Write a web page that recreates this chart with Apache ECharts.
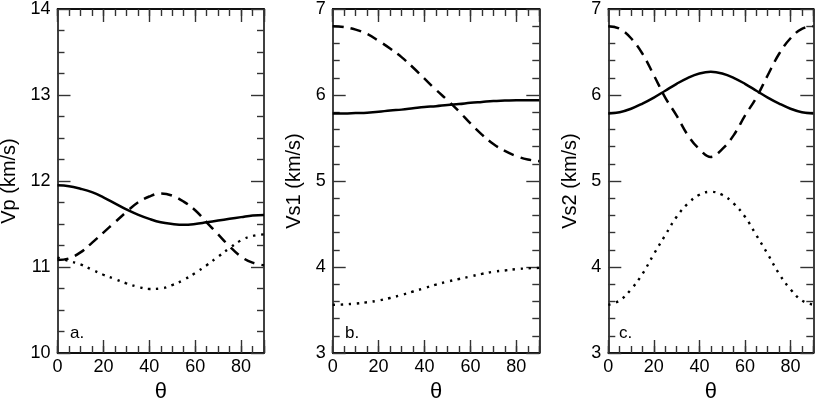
<!DOCTYPE html>
<html>
<head>
<meta charset="utf-8">
<script src="https://cdn.jsdelivr.net/npm/echarts@6/dist/echarts.min.js"></script>
<style>
  html, body { margin: 0; padding: 0; background: #fff; }
  #chart { width: 817px; height: 398px; }
</style>
</head>
<body>
<div id="chart"></div>
<script>
// angle samples (degrees)
const theta = [0, 5, 10, 15, 20, 25, 30, 35, 40, 45, 50, 55, 60, 65, 70, 75, 80, 85, 90]

// panel a: Vp
const vpSolid  = [11.95, 11.94, 11.91, 11.87, 11.81, 11.74, 11.67, 11.61, 11.56, 11.52, 11.50, 11.49, 11.50, 11.52, 11.54, 11.56, 11.58, 11.60, 11.605]
const vpDashed = [11.08, 11.10, 11.17, 11.28, 11.40, 11.52, 11.64, 11.75, 11.82, 11.855, 11.83, 11.76, 11.66, 11.52, 11.38, 11.24, 11.12, 11.05, 11.02]
const vpDotted = [11.11, 11.07, 11.03, 10.97, 10.91, 10.86, 10.81, 10.77, 10.745, 10.75, 10.79, 10.85, 10.93, 11.02, 11.12, 11.22, 11.31, 11.36, 11.38]

// panel b: Vs1
const vs1Solid  = [5.785, 5.785, 5.79, 5.795, 5.805, 5.82, 5.83, 5.845, 5.86, 5.87, 5.885, 5.895, 5.91, 5.92, 5.93, 5.935, 5.94, 5.94, 5.94]
const vs1Dashed = [6.80, 6.79, 6.76, 6.71, 6.63, 6.54, 6.44, 6.32, 6.19, 6.06, 5.94, 5.81, 5.67, 5.54, 5.43, 5.35, 5.29, 5.25, 5.23]
const vs1Dotted = [3.56, 3.565, 3.575, 3.59, 3.61, 3.64, 3.675, 3.715, 3.755, 3.795, 3.83, 3.86, 3.89, 3.92, 3.945, 3.96, 3.975, 3.985, 3.99]

// panel c: Vs2
const vs2Solid  = [5.785, 5.80, 5.84, 5.90, 5.97, 6.05, 6.13, 6.20, 6.25, 6.27, 6.25, 6.20, 6.13, 6.05, 5.97, 5.90, 5.84, 5.80, 5.785]
const vs2Dashed = [6.80, 6.77, 6.66, 6.48, 6.23, 5.97, 5.76, 5.53, 5.37, 5.28, 5.37, 5.53, 5.76, 5.97, 6.23, 6.48, 6.66, 6.77, 6.80]
const vs2Dotted = [3.56, 3.61, 3.74, 3.92, 4.15, 4.37, 4.585, 4.74, 4.84, 4.875, 4.84, 4.74, 4.585, 4.37, 4.15, 3.92, 3.74, 3.61, 3.56]

const yNames = ['Vp (km/s)', 'Vs1 (km/s)', 'Vs2 (km/s)']
const yMin = [10, 3, 3]
const yMax = [14, 7, 7]
const yMinor = [4, 5, 5]
const panelTags = ['a.', 'b.', 'c.']

const panels = [
  [vpSolid, vpDashed, vpDotted],
  [vs1Solid, vs1Dashed, vs1Dotted],
  [vs2Solid, vs2Dashed, vs2Dotted]
]

const grids = [
  { left: 57.5, top: 9, width: 206.5, height: 344, outerBoundsMode: 'none' },
  { left: 332.7, top: 9, width: 206.6, height: 344, outerBoundsMode: 'none' },
  { left: 608.3, top: 9, width: 205, height: 344, outerBoundsMode: 'none' }
]
const yNameGap = [38, 28, 28]

const FONT = 'Liberation Sans, Arial, Helvetica, sans-serif'
const frame = { onZero: false, lineStyle: { color: '#000', width: 1.5 } }
const tickStyle = { color: '#333', width: 1.4 }

const xAxes = []
const yAxes = []
grids.forEach((g, i) => {
  const base = { type: 'value', gridIndex: i, min: 0, max: 90, splitLine: { show: false }, axisLine: frame }
  // bottom, long ticks + labels
  xAxes.push(Object.assign({}, base, {
    position: 'bottom', interval: 20,
    axisTick: { inside: true, length: 13, lineStyle: tickStyle },
    axisLabel: { margin: 5, color: '#000', fontSize: 18, fontFamily: FONT,
      formatter: v => (v % 20 === 0 ? String(v) : '') },
    name: 'θ', nameLocation: 'middle', nameGap: 24,
    nameTextStyle: { color: '#000', fontSize: 22, fontFamily: FONT }
  }))
  // bottom, short ticks
  xAxes.push(Object.assign({}, base, {
    position: 'bottom', interval: 5,
    axisTick: { inside: true, length: 7, lineStyle: tickStyle },
    axisLabel: { show: false }
  }))
  // top, long ticks
  xAxes.push(Object.assign({}, base, {
    position: 'top', interval: 20,
    axisTick: { inside: true, length: 13, lineStyle: tickStyle },
    axisLabel: { show: false }
  }))
  // top, short ticks
  xAxes.push(Object.assign({}, base, {
    position: 'top', interval: 5,
    axisTick: { inside: true, length: 7, lineStyle: tickStyle },
    axisLabel: { show: false }
  }))

  const ybase = {
    type: 'value', gridIndex: i, min: yMin[i], max: yMax[i], interval: 1,
    splitLine: { show: false }, axisLine: frame,
    axisTick: { inside: true, length: 13, lineStyle: tickStyle },
    minorTick: { show: true, splitNumber: yMinor[i], length: 7, lineStyle: tickStyle }
  }
  yAxes.push(Object.assign({}, ybase, {
    position: 'left',
    axisLabel: { margin: 7, color: '#000', fontSize: 18, fontFamily: FONT },
    name: yNames[i], nameLocation: 'middle', nameGap: yNameGap[i],
    nameTextStyle: { color: '#000', fontSize: 20, fontFamily: FONT }
  }))
  yAxes.push(Object.assign({}, ybase, {
    position: 'right',
    axisLabel: { show: false }
  }))
})

const lineTypes = [
  { type: 'solid', width: 2.5 },
  { type: [11, 7], width: 2.5 },
  { type: [2.4, 5.6], width: 2.4 }
]

const series = []
panels.forEach((sets, i) => {
  sets.forEach((vals, k) => {
    series.push({
      type: 'line',
      xAxisIndex: i * 4,
      yAxisIndex: i * 2,
      data: theta.map((t, j) => [t, vals[j]]),
      smooth: 0.4,
      showSymbol: false,
      lineStyle: Object.assign({ color: '#000', cap: 'butt' }, lineTypes[k])
    })
  })
})

const chart = echarts.init(document.getElementById('chart'), null, { renderer: 'canvas' })
chart.setOption({
  animation: false,
  backgroundColor: '#fff',
  grid: grids,
  xAxis: xAxes,
  yAxis: yAxes,
  series: series,
  graphic: grids.map((g, i) => ({
    type: 'text',
    left: g.left + [12.5, 12.3, 10.7][i],
    top: 325,
    style: { text: panelTags[i], fontSize: 17, fontFamily: FONT, fill: '#000' }
  }))
})
</script>
</body>
</html>
